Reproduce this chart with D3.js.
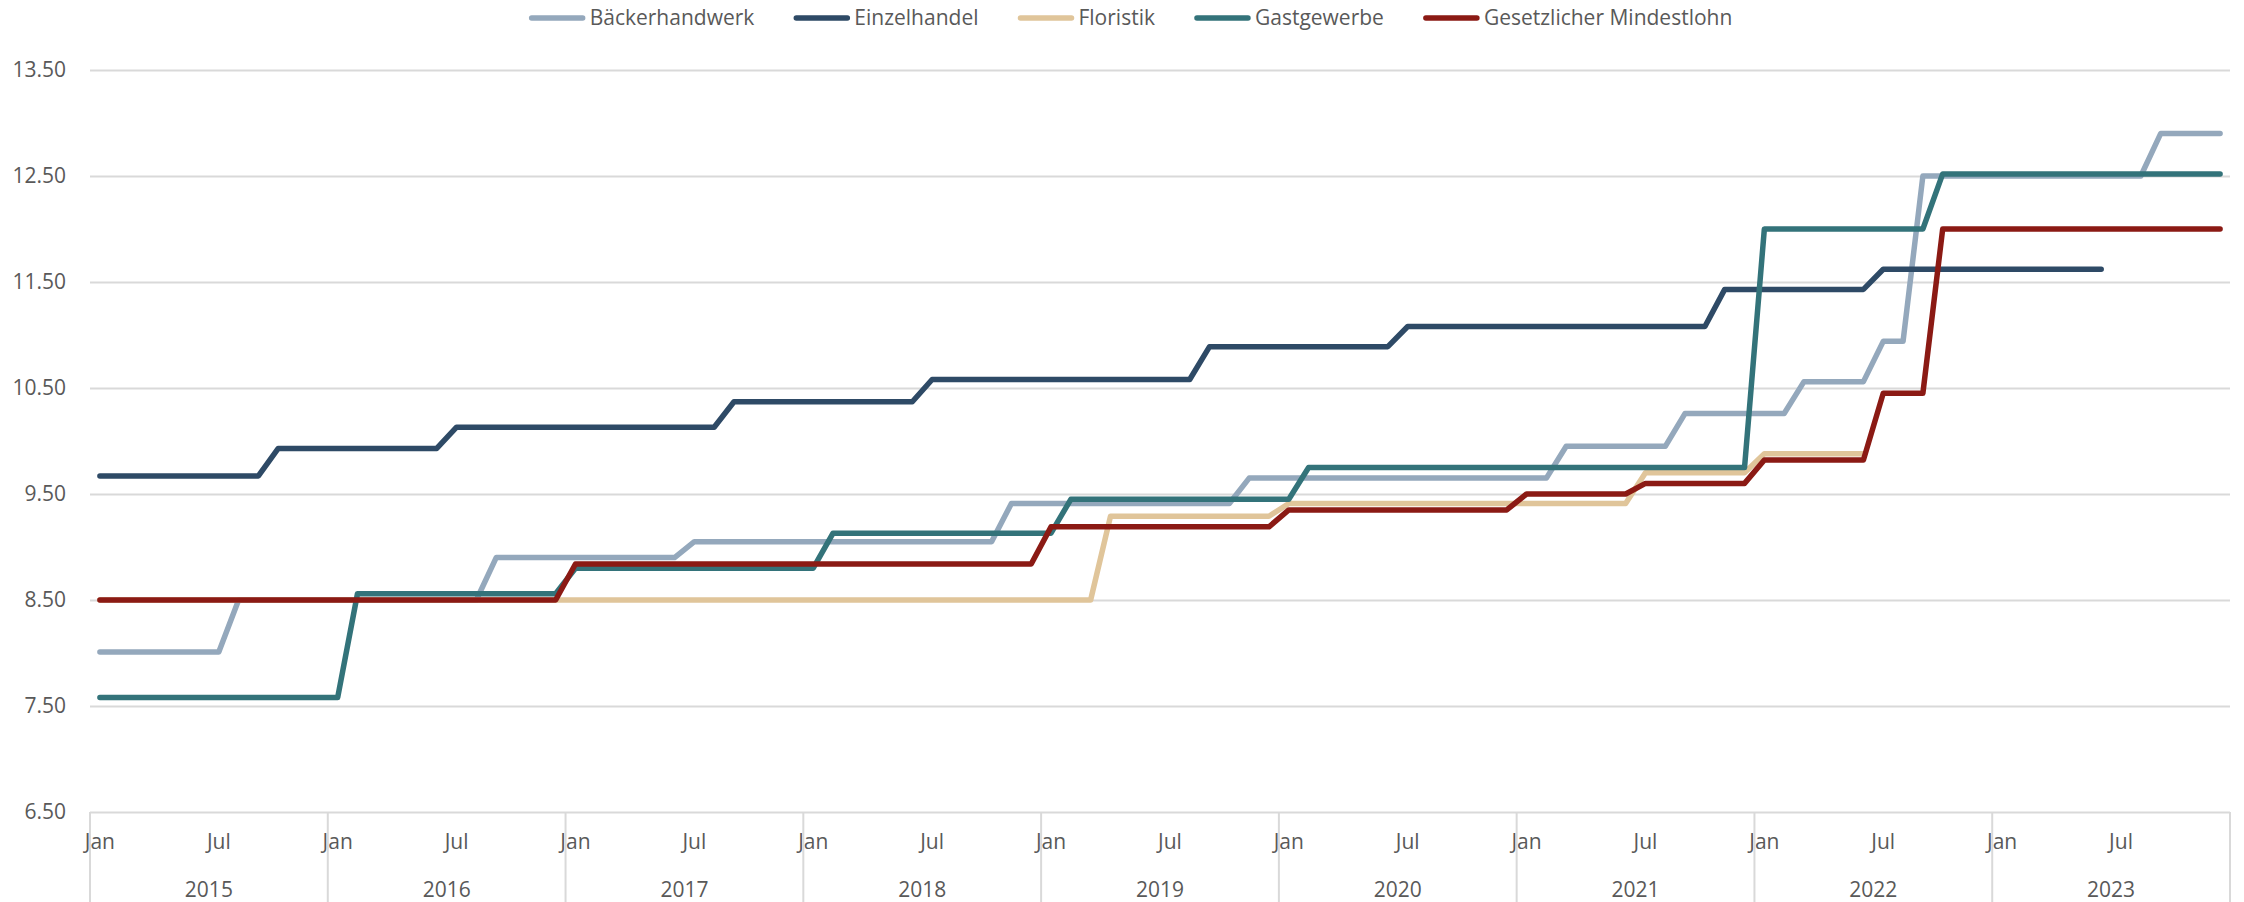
<!DOCTYPE html>
<html>
<head>
<meta charset="utf-8">
<script src="https://cdn.jsdelivr.net/npm/d3@7"></script>
<style>
  body { margin: 0; background: #fff; }
  text { font-family: "Open Sans", sans-serif; fill: #595959; }
</style>
</head>
<body>
<div id="chart"></div>
<script>
// Monthly values Jan 2015 - Dec 2023, one row per year
var years = ["2015", "2016", "2017", "2018", "2019", "2020", "2021", "2022", "2023"];
var monthNames = ["Jan", "Feb", "Mar", "Apr", "May", "Jun", "Jul", "Aug", "Sep", "Oct", "Nov", "Dec"];
var yTicks = [6.5, 7.5, 8.5, 9.5, 10.5, 11.5, 12.5, 13.5];

var baecker = [
  8.01, 8.01, 8.01, 8.01, 8.01, 8.01, 8.01, 8.50, 8.50, 8.50, 8.50, 8.50,
  8.50, 8.50, 8.50, 8.50, 8.50, 8.50, 8.50, 8.50, 8.90, 8.90, 8.90, 8.90,
  8.90, 8.90, 8.90, 8.90, 8.90, 8.90, 9.05, 9.05, 9.05, 9.05, 9.05, 9.05,
  9.05, 9.05, 9.05, 9.05, 9.05, 9.05, 9.05, 9.05, 9.05, 9.05, 9.41, 9.41,
  9.41, 9.41, 9.41, 9.41, 9.41, 9.41, 9.41, 9.41, 9.41, 9.41, 9.65, 9.65,
  9.65, 9.65, 9.65, 9.65, 9.65, 9.65, 9.65, 9.65, 9.65, 9.65, 9.65, 9.65,
  9.65, 9.65, 9.95, 9.95, 9.95, 9.95, 9.95, 9.95, 10.26, 10.26, 10.26, 10.26,
  10.26, 10.26, 10.56, 10.56, 10.56, 10.56, 10.94, 10.94, 12.50, 12.50, 12.50, 12.50,
  12.50, 12.50, 12.50, 12.50, 12.50, 12.50, 12.50, 12.50, 12.90, 12.90, 12.90, 12.90
];
var einzelhandel = [
  9.67, 9.67, 9.67, 9.67, 9.67, 9.67, 9.67, 9.67, 9.67, 9.93, 9.93, 9.93,
  9.93, 9.93, 9.93, 9.93, 9.93, 9.93, 10.13, 10.13, 10.13, 10.13, 10.13, 10.13,
  10.13, 10.13, 10.13, 10.13, 10.13, 10.13, 10.13, 10.13, 10.37, 10.37, 10.37, 10.37,
  10.37, 10.37, 10.37, 10.37, 10.37, 10.37, 10.58, 10.58, 10.58, 10.58, 10.58, 10.58,
  10.58, 10.58, 10.58, 10.58, 10.58, 10.58, 10.58, 10.58, 10.89, 10.89, 10.89, 10.89,
  10.89, 10.89, 10.89, 10.89, 10.89, 10.89, 11.08, 11.08, 11.08, 11.08, 11.08, 11.08,
  11.08, 11.08, 11.08, 11.08, 11.08, 11.08, 11.08, 11.08, 11.08, 11.08, 11.43, 11.43,
  11.43, 11.43, 11.43, 11.43, 11.43, 11.43, 11.62, 11.62, 11.62, 11.62, 11.62, 11.62,
  11.62, 11.62, 11.62, 11.62, 11.62, 11.62, null, null, null, null, null, null
];
var floristik = [
  8.50, 8.50, 8.50, 8.50, 8.50, 8.50, 8.50, 8.50, 8.50, 8.50, 8.50, 8.50,
  8.50, 8.50, 8.50, 8.50, 8.50, 8.50, 8.50, 8.50, 8.50, 8.50, 8.50, 8.50,
  8.50, 8.50, 8.50, 8.50, 8.50, 8.50, 8.50, 8.50, 8.50, 8.50, 8.50, 8.50,
  8.50, 8.50, 8.50, 8.50, 8.50, 8.50, 8.50, 8.50, 8.50, 8.50, 8.50, 8.50,
  8.50, 8.50, 8.50, 9.29, 9.29, 9.29, 9.29, 9.29, 9.29, 9.29, 9.29, 9.29,
  9.41, 9.41, 9.41, 9.41, 9.41, 9.41, 9.41, 9.41, 9.41, 9.41, 9.41, 9.41,
  9.41, 9.41, 9.41, 9.41, 9.41, 9.41, 9.70, 9.70, 9.70, 9.70, 9.70, 9.70,
  9.88, 9.88, 9.88, 9.88, 9.88, 9.88, null, null, null, null, null, null,
  null, null, null, null, null, null, null, null, null, null, null, null
];
var gastgewerbe = [
  7.58, 7.58, 7.58, 7.58, 7.58, 7.58, 7.58, 7.58, 7.58, 7.58, 7.58, 7.58,
  7.58, 8.56, 8.56, 8.56, 8.56, 8.56, 8.56, 8.56, 8.56, 8.56, 8.56, 8.56,
  8.80, 8.80, 8.80, 8.80, 8.80, 8.80, 8.80, 8.80, 8.80, 8.80, 8.80, 8.80,
  8.80, 9.13, 9.13, 9.13, 9.13, 9.13, 9.13, 9.13, 9.13, 9.13, 9.13, 9.13,
  9.13, 9.45, 9.45, 9.45, 9.45, 9.45, 9.45, 9.45, 9.45, 9.45, 9.45, 9.45,
  9.45, 9.75, 9.75, 9.75, 9.75, 9.75, 9.75, 9.75, 9.75, 9.75, 9.75, 9.75,
  9.75, 9.75, 9.75, 9.75, 9.75, 9.75, 9.75, 9.75, 9.75, 9.75, 9.75, 9.75,
  12.00, 12.00, 12.00, 12.00, 12.00, 12.00, 12.00, 12.00, 12.00, 12.52, 12.52, 12.52,
  12.52, 12.52, 12.52, 12.52, 12.52, 12.52, 12.52, 12.52, 12.52, 12.52, 12.52, 12.52
];
var mindestlohn = [
  8.50, 8.50, 8.50, 8.50, 8.50, 8.50, 8.50, 8.50, 8.50, 8.50, 8.50, 8.50,
  8.50, 8.50, 8.50, 8.50, 8.50, 8.50, 8.50, 8.50, 8.50, 8.50, 8.50, 8.50,
  8.84, 8.84, 8.84, 8.84, 8.84, 8.84, 8.84, 8.84, 8.84, 8.84, 8.84, 8.84,
  8.84, 8.84, 8.84, 8.84, 8.84, 8.84, 8.84, 8.84, 8.84, 8.84, 8.84, 8.84,
  9.19, 9.19, 9.19, 9.19, 9.19, 9.19, 9.19, 9.19, 9.19, 9.19, 9.19, 9.19,
  9.35, 9.35, 9.35, 9.35, 9.35, 9.35, 9.35, 9.35, 9.35, 9.35, 9.35, 9.35,
  9.50, 9.50, 9.50, 9.50, 9.50, 9.50, 9.60, 9.60, 9.60, 9.60, 9.60, 9.60,
  9.82, 9.82, 9.82, 9.82, 9.82, 9.82, 10.45, 10.45, 10.45, 12.00, 12.00, 12.00,
  12.00, 12.00, 12.00, 12.00, 12.00, 12.00, 12.00, 12.00, 12.00, 12.00, 12.00, 12.00
];

var seriesNames = ["Bäckerhandwerk", "Einzelhandel", "Floristik", "Gastgewerbe", "Gesetzlicher Mindestlohn"];
var seriesValues = [baecker, einzelhandel, floristik, gastgewerbe, mindestlohn];
var seriesColors = ["#94A8BC", "#2E4A66", "#E0C59A", "#33737A", "#8B1A14"];

// Size
var svgWidth = 2244;
var svgHeight = 902;
var plot = { left: 90, right: 2230, top: 70, bottom: 812 };

var svg = d3.select("#chart")
    .append("svg")
    .attr("width", svgWidth)
    .attr("height", svgHeight);

var monthIndex = d3.range(years.length * 12);

// Scales
var xScale = d3.scaleBand()
    .domain(monthIndex)
    .range([plot.left, plot.right]);
var xCenter = i => xScale(i) + xScale.bandwidth() / 2;

var yScale = d3.scaleLinear()
    .domain([6.5, 13.5])
    .range([plot.bottom, plot.top]);

// Y axis with gridlines
var yAxis = svg.append("g")
    .attr("transform", `translate(${plot.left},0)`)
    .call(d3.axisLeft(yScale)
        .tickValues(yTicks)
        .tickSize(-(plot.right - plot.left))
        .tickPadding(24)
        .tickFormat(d3.format(".2f")));
yAxis.select(".domain").remove();
yAxis.selectAll(".tick line").attr("stroke", "#D9D9D9").attr("stroke-width", 2);
yAxis.selectAll(".tick text")
    .style("font-size", "21px")
    .style("font-family", "'Open Sans', sans-serif")
    .attr("fill", "#595959");

// Month labels
var monthAxis = svg.append("g")
    .attr("transform", `translate(0,${plot.bottom})`)
    .call(d3.axisBottom(xScale)
        .tickValues(monthIndex.filter(i => i % 6 === 0))
        .tickSize(0)
        .tickPadding(22)
        .tickFormat(i => monthNames[i % 12]));
monthAxis.select(".domain").remove();
monthAxis.selectAll(".tick text")
    .style("font-size", "21px")
    .style("font-family", "'Open Sans', sans-serif")
    .attr("fill", "#595959");

// Year labels and separators
var yearScale = d3.scaleBand()
    .domain(years)
    .range([plot.left, plot.right]);

svg.append("g").selectAll("line")
    .data(d3.range(years.length + 1))
    .enter()
    .append("line")
    .attr("x1", k => plot.left + k * yearScale.bandwidth())
    .attr("x2", k => plot.left + k * yearScale.bandwidth())
    .attr("y1", plot.bottom)
    .attr("y2", svgHeight)
    .attr("stroke", "#D9D9D9")
    .attr("stroke-width", 2);

svg.append("g").selectAll("text")
    .data(years)
    .enter()
    .append("text")
    .attr("x", d => yearScale(d) + yearScale.bandwidth() / 2)
    .attr("y", 897)
    .attr("text-anchor", "middle")
    .style("font-size", "21px")
    .text(d => d);

// Lines
var line = d3.line()
    .defined(d => d != null)
    .x((d, i) => xCenter(i))
    .y(d => yScale(d));

svg.append("g").selectAll("path")
    .data(seriesValues)
    .enter()
    .append("path")
    .attr("d", d => line(d))
    .attr("fill", "none")
    .attr("stroke", (d, i) => seriesColors[i])
    .attr("stroke-width", 5.5)
    .attr("stroke-linejoin", "round")
    .attr("stroke-linecap", "round");

// Legend
var legend = svg.append("g");
var items = legend.selectAll("g")
    .data(seriesNames)
    .enter()
    .append("g");
items.append("line")
    .attr("x1", 2).attr("x2", 53)
    .attr("y1", 18).attr("y2", 18)
    .attr("stroke", (d, i) => seriesColors[i])
    .attr("stroke-width", 5.5)
    .attr("stroke-linecap", "round");
items.append("text")
    .attr("x", 60)
    .attr("y", 25)
    .style("font-size", "21px")
    .text(d => d);

var pos = 0;
items.each(function() {
    var w = d3.select(this).select("text").node().getComputedTextLength();
    d3.select(this).attr("transform", `translate(${pos},0)`);
    pos += 60 + w + 40;
});
pos -= 40;
legend.attr("transform", `translate(${1131 - pos / 2},0)`);
</script>
</body>
</html>
